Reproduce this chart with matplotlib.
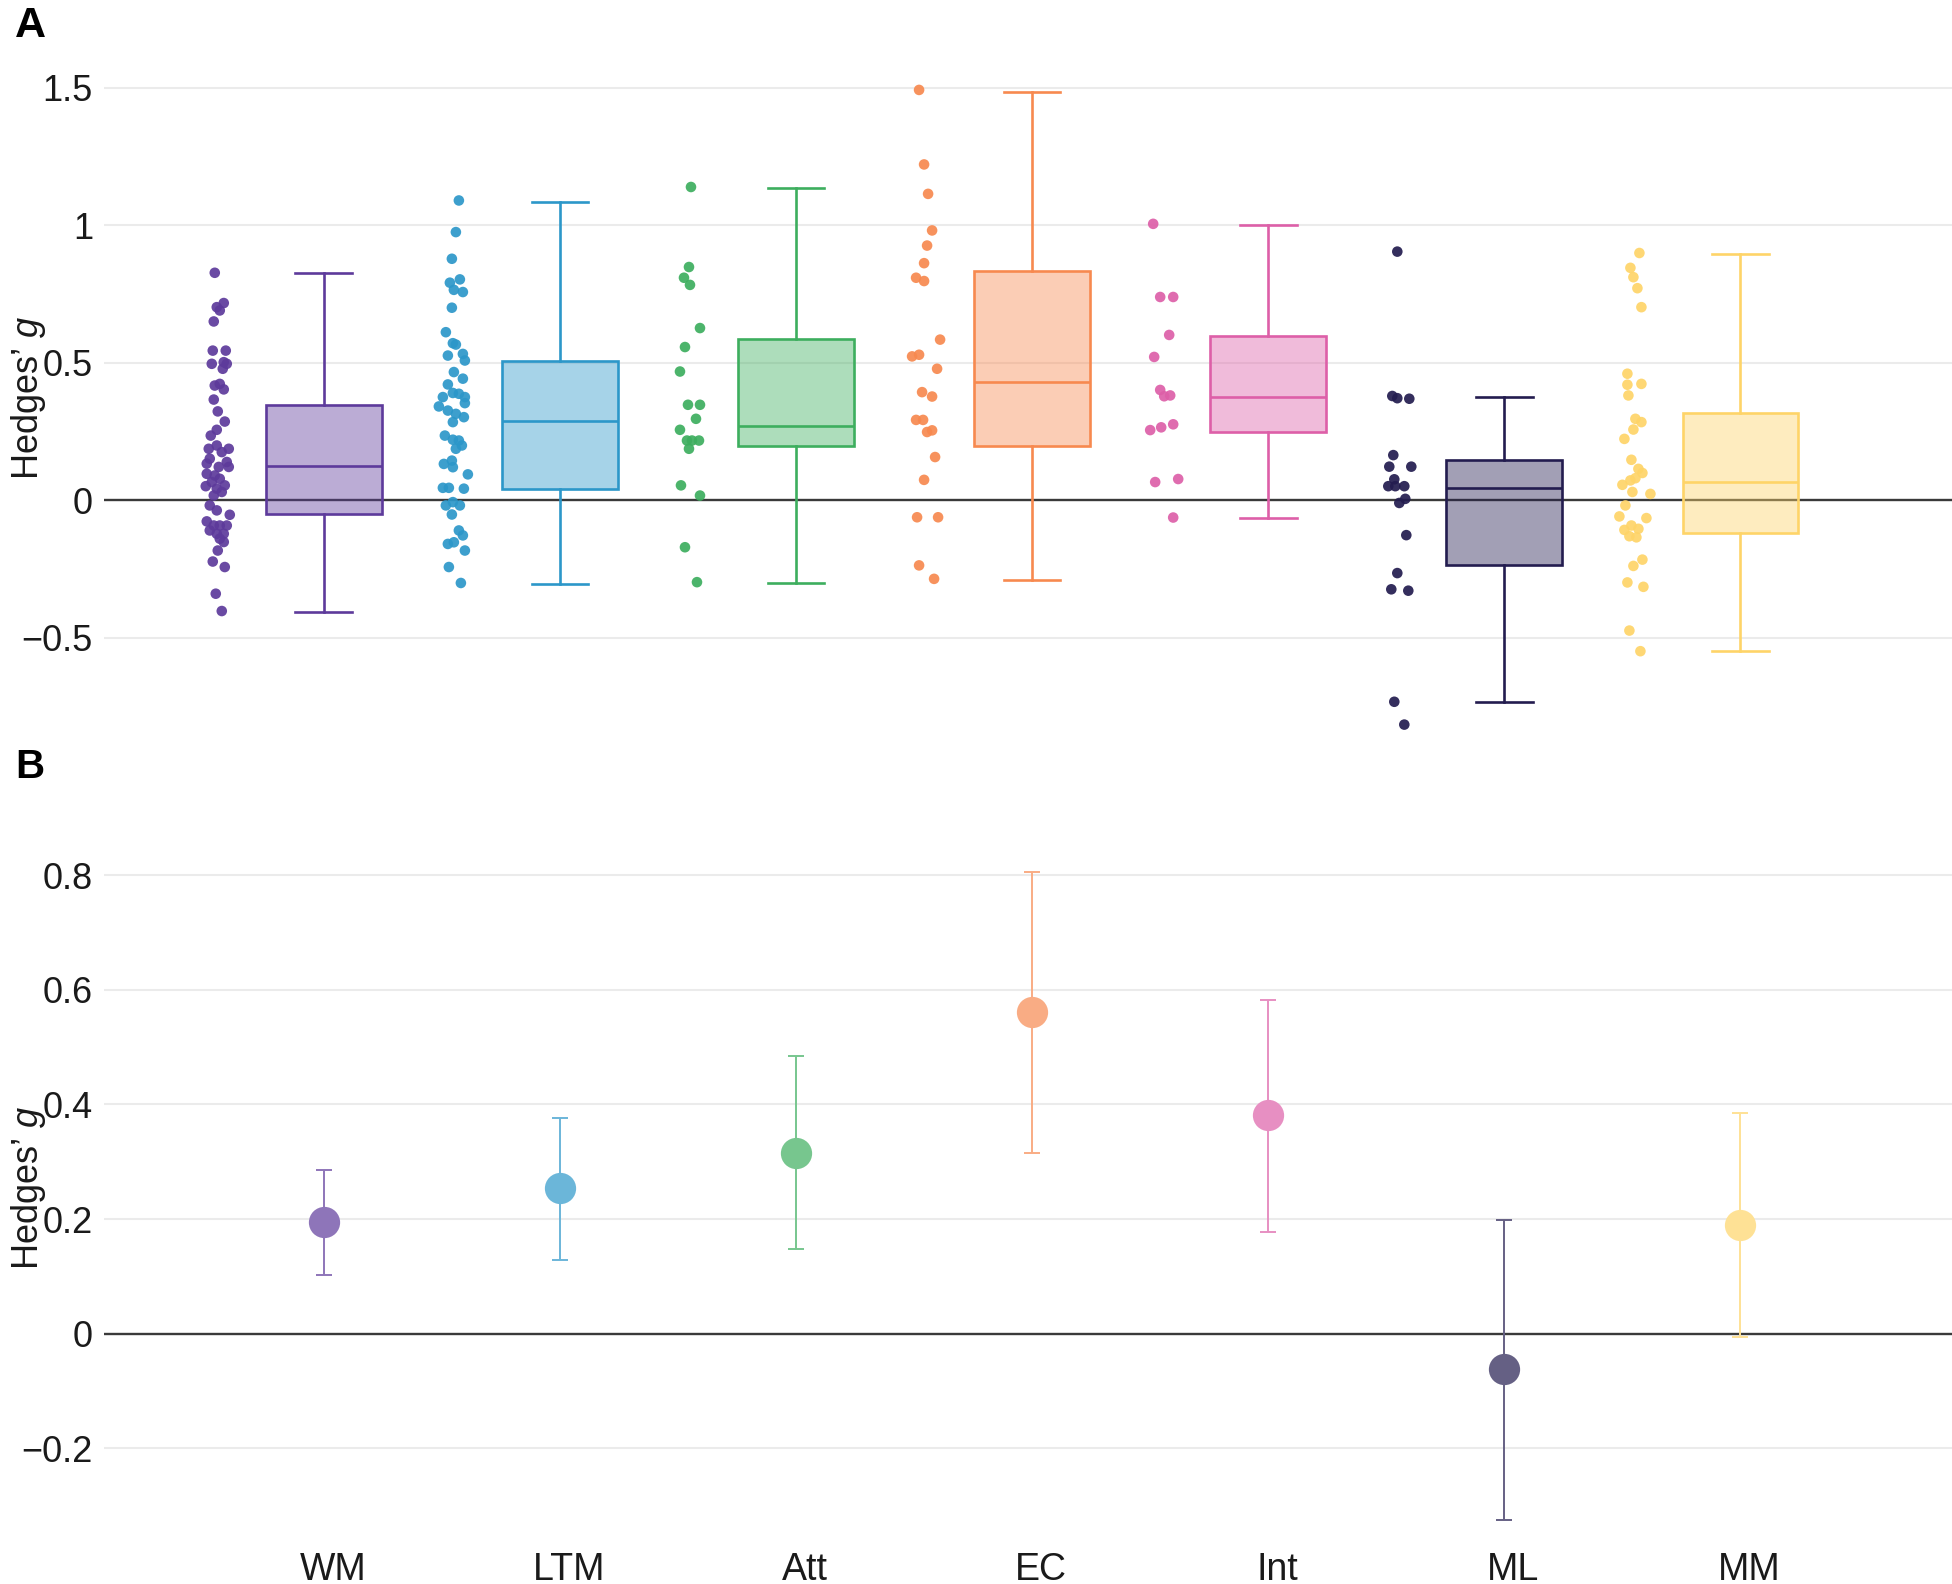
import matplotlib
matplotlib.use('Agg')
import matplotlib.pyplot as plt
import matplotlib.transforms as mtransforms
from matplotlib.colors import to_rgba, to_rgb
import numpy as np

plt.rcParams['font.family'] = ['Liberation Sans', 'DejaVu Sans']
plt.rcParams['mathtext.fontset'] = 'custom'
plt.rcParams['mathtext.it'] = 'Liberation Sans:italic'
plt.rcParams['mathtext.rm'] = 'Liberation Sans'

# ---------------- data ----------------
categories = ['WM', 'LTM', 'Att', 'EC', 'Int', 'ML', 'MM']
colors = ['#5D3A9B', '#2C97C9', '#3DAE5E', '#F7894F', '#DD5FA8', '#231C4F', '#FED468']

# Panel A: individual effect sizes (Hedges' g) per domain
wm_g = [0.828, 0.718, 0.703, 0.691, 0.651, 0.545, 0.545, 0.497, 0.503, 0.497,
        0.479, 0.418, 0.424, 0.404, 0.367, 0.324, 0.287, 0.257, 0.236, 0.188,
        0.200, 0.188, 0.176, 0.152, 0.140, 0.134, 0.122, 0.122, 0.097, 0.091,
        0.079, 0.067, 0.052, 0.055, 0.043, 0.031, 0.018, -0.018, -0.036, -0.052,
        -0.076, -0.091, -0.091, -0.091, -0.109, -0.121, -0.121, -0.139, -0.151, -0.182,
        -0.222, -0.242, -0.339, -0.402]
ltm_g = [1.091, 0.976, 0.879, 0.792, 0.804, 0.766, 0.758, 0.701, 0.612, 0.572,
         0.567, 0.527, 0.533, 0.509, 0.467, 0.443, 0.422, 0.376, 0.391, 0.388,
         0.376, 0.354, 0.342, 0.327, 0.315, 0.303, 0.285, 0.236, 0.221, 0.218,
         0.200, 0.188, 0.133, 0.145, 0.121, 0.095, 0.046, 0.046, 0.043, -0.018,
         -0.006, -0.018, -0.051, -0.109, -0.127, -0.158, -0.152, -0.182, -0.242, -0.300]
att_g = [1.140, 0.849, 0.810, 0.784, 0.627, 0.558, 0.469, 0.348, 0.348, 0.297,
         0.257, 0.218, 0.218, 0.218, 0.188, 0.055, 0.018, -0.170, -0.297]
ec_g = [1.493, 1.222, 1.115, 0.982, 0.927, 0.863, 0.810, 0.798, 0.585, 0.524,
        0.530, 0.479, 0.394, 0.378, 0.293, 0.293, 0.249, 0.255, 0.158, 0.075,
        -0.061, -0.061, -0.236, -0.285]
int_g = [1.006, 0.740, 0.740, 0.602, 0.522, 0.402, 0.379, 0.382, 0.277, 0.266,
         0.256, 0.067, 0.078, -0.062]
ml_g = [0.905, 0.380, 0.372, 0.370, 0.165, 0.123, 0.123, 0.077, 0.052, 0.052,
        0.052, 0.006, -0.009, -0.126, -0.264, -0.323, -0.328, -0.732, -0.815]
mm_g = [0.900, 0.846, 0.812, 0.772, 0.703, 0.461, 0.421, 0.424, 0.382, 0.297,
        0.285, 0.258, 0.224, 0.148, 0.115, 0.100, 0.057, 0.073, 0.081, 0.031,
        0.024, -0.018, -0.058, -0.064, -0.107, -0.091, -0.103, -0.130, -0.134, -0.215,
        -0.238, -0.298, -0.314, -0.473, -0.548]

# horizontal jitter of each dot (pixels)
wm_jit = [-3, 6, -1, 2, -4, -5, 8, -6, 6, 9, 5, -3, 2, 6, -4, 0, 7, -1, -7, -9,
          -1, 11, 4, -8, 9, -11, 1, 11, -11, -3, 2, -6, -12, 7, -1, 4, -4, -8, -1, 12,
          -11, -4, 2, 9, -8, -1, 6, 2, 6, 0, -5, 7, -2, 4]
ltm_jit = [5, 2, -2, -4, 6, 0, 9, -2, -8, -1, 2, -6, 9, 11, 0, 9, -6, -11, -1, 5,
           11, 11, -15, -6, 2, 10, -1, -9, -1, 5, 8, 2, -10, -2, -1, 14, -11, -5, 10, -8,
           -1, 6, -2, 5, 9, -6, 0, 11, -5, 7]
att_jit = [1, -1, -6, 0, 10, -5, -10, -2, 10, 6, -10, -3, 2, 9, -1, -9, 10, -5, 7]
ec_jit = [-7, -2, 2, 6, 1, -2, -10, -2, 14, -14, -7, 11, -4, 6, -10, -3, 1, 6, 9, -2,
          -9, 12, -7, 8]
int_jit = [-9, -2, 11, 7, -8, -2, 2, 8, 11, -1, -12, -7, 16, 11]
ml_jit = [-1, -6, -1, 11, -5, -9, 13, -4, -10, -3, 6, 7, 1, 8, -1, -7, 10, -4, 6]
mm_jit = [5, -4, -1, 3, 7, -7, -7, 7, -6, 1, 7, -1, -10, -3, 4, 8, -12, -4, 1, -2,
          16, -9, -15, 12, -10, -3, 4, -5, 2, 8, -1, -7, 9, -5, 6]

# box statistics
box_whishi = [0.826, 1.086, 1.136, 1.484, 1.000, 0.376, 0.896]
box_q3 = [0.348, 0.507, 0.588, 0.833, 0.597, 0.149, 0.317]
box_med = [0.127, 0.290, 0.271, 0.430, 0.376, 0.045, 0.068]
box_q1 = [-0.050, 0.040, 0.199, 0.199, 0.249, -0.235, -0.118]
box_whislo = [-0.404, -0.303, -0.299, -0.288, -0.063, -0.733, -0.548]

# Panel B: pooled estimates with CIs
pooled_g = [0.195, 0.254, 0.315, 0.561, 0.381, -0.062, 0.190]
ci_low = [0.103, 0.129, 0.148, 0.316, 0.178, -0.325, -0.006]
ci_high = [0.286, 0.376, 0.485, 0.806, 0.582, 0.199, 0.385]

yticksA = [-0.5, 0, 0.5, 1, 1.5]
yticklabelsA = ['\u22120.5', '0', '0.5', '1', '1.5']
yticksB = [-0.2, 0, 0.2, 0.4, 0.6, 0.8]
yticklabelsB = ['\u22120.2', '0', '0.2', '0.4', '0.6', '0.8']

strip_values = [wm_g, ltm_g, att_g, ec_g, int_g, ml_g, mm_g]
strip_jitter = [wm_jit, ltm_jit, att_jit, ec_jit, int_jit, ml_jit, mm_jit]

# ---------------- figure ----------------
W, H = 1952, 1584
fig = plt.figure(figsize=(W / 100, H / 100), dpi=100)
axA = fig.add_axes([104 / W, 1 - 740 / H, 1848 / W, 685 / H])
axB = fig.add_axes([104 / W, 1 - 1545 / H, 1848 / W, 715 / H])

PX_PER_CAT = 236.0
STRIP_OFFSET = -106 / PX_PER_CAT
xlim = (-0.931, 6.896)


def light(c, a):
    r, g, b = to_rgb(c)
    return (1 - a * (1 - r), 1 - a * (1 - g), 1 - a * (1 - b))


def style_axis(ax, ticks, labels):
    for s in ax.spines.values():
        s.set_visible(False)
    ax.set_yticks(ticks)
    ax.set_yticklabels(labels)
    ax.tick_params(axis='y', length=0, pad=8, labelsize=26, labelcolor='#1a1a1a')
    ax.tick_params(axis='x', length=0)
    ax.yaxis.grid(True, color='#EBEBEB', lw=1.5)
    ax.xaxis.grid(False)
    ax.set_axisbelow(True)
    ax.axhline(0, color='#3A3A3A', lw=1.7, zorder=1.5)
    ax.set_xlim(*xlim)
    ax.set_ylabel('Hedges\u2019 $g$', fontsize=26, color='#1a1a1a')
    ax.yaxis.set_label_coords(-0.0305, 0.5)


# Panel A
style_axis(axA, yticksA, yticklabelsA)
axA.set_ylim(-0.871, 1.620)
axA.set_xticks([])
for i, c in enumerate(colors):
    st = dict(med=box_med[i], q1=box_q1[i], q3=box_q3[i],
              whislo=box_whislo[i], whishi=box_whishi[i], fliers=[])
    axA.bxp([st], positions=[i], widths=0.49, capwidths=[0.24],
            patch_artist=True, showfliers=False, manage_ticks=False,
            boxprops=dict(facecolor=to_rgba(c, 0.42), edgecolor=c, lw=1.9),
            medianprops=dict(color=c, lw=1.9),
            whiskerprops=dict(color=c, lw=1.9),
            capprops=dict(color=c, lw=1.9), zorder=2)
    vals = np.array(strip_values[i])
    xs = i + STRIP_OFFSET + np.array(strip_jitter[i]) / PX_PER_CAT
    axA.scatter(xs, vals, s=58, color=c, alpha=0.92, edgecolors='none', zorder=3)

# Panel B
style_axis(axB, yticksB, yticklabelsB)
axB.set_ylim(-0.369, 0.879)
for i, c in enumerate(colors):
    lc = light(c, 0.7)
    axB.errorbar([i], [pooled_g[i]],
                 yerr=[[pooled_g[i] - ci_low[i]], [ci_high[i] - pooled_g[i]]],
                 fmt='none', ecolor=lc, elinewidth=1.4, capsize=5.6, capthick=1.4, zorder=2)
    axB.plot([i], [pooled_g[i]], 'o', ms=22.5, color=lc, mec='none', zorder=3)

axB.set_xticks(range(len(categories)))
axB.set_xticklabels(categories, fontsize=27, color='#1a1a1a')
axB.tick_params(axis='x', pad=5)
shift = mtransforms.ScaledTranslation(9 / 100, 0, fig.dpi_scale_trans)
for lbl in axB.get_xticklabels():
    lbl.set_transform(lbl.get_transform() + shift)

fig.text(15 / W, 1 - 6 / H, 'A', fontsize=31, fontweight='bold', va='top', ha='left')
fig.text(15 / W, 1 - 748 / H, 'B', fontsize=29, fontweight='bold', va='top', ha='left')

fig.savefig('out.png', dpi=100, facecolor='white')
